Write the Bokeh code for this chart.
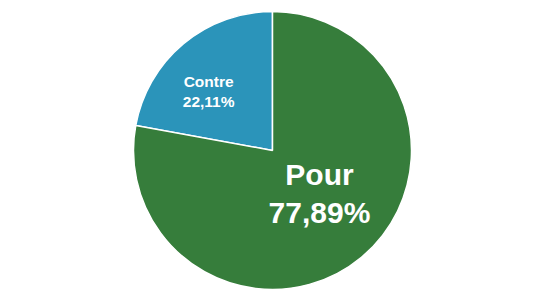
import math
from bokeh.plotting import figure
from bokeh.models import Range1d, ColumnDataSource
from bokeh.core.properties import value
from bokeh.embed import file_html
from bokeh.resources import INLINE

categories = ["Contre", "Pour"]
shares = [22.11, 77.89]
labels = ["Contre\n22,11%", "Pour\n77,89%"]
colors = ["#2b94ba", "#367d3b"]
font_sizes = ["15.5px", "30px"]
label_radius_frac = [0.625, 0.46]
label_angle_offset_deg = [7.5, 7.5]

W, H = 545, 300
cx, cy, R = 272, 150, 139

# Contre starts at 12 o'clock going anticlockwise; Pour fills the rest
starts, ends, lx, ly = [], [], [], []
a = math.pi / 2
for s, f, off in zip(shares, label_radius_frac, label_angle_offset_deg):
    span = s / 100 * 2 * math.pi
    starts.append(a)
    ends.append(a + span)
    mid = a + span / 2 + math.radians(off)
    lx.append(cx + f * R * math.cos(mid))
    ly.append(cy + f * R * math.sin(mid))
    a += span

src = ColumnDataSource(dict(start=starts, end=ends, color=colors, cat=categories,
                            lx=lx, ly=ly, label=labels, fs=font_sizes))

p = figure(width=W, height=H, x_range=Range1d(0, W), y_range=Range1d(0, H),
           output_backend="svg", toolbar_location=None, min_border=0)
p.axis.visible = False
p.grid.visible = False
p.outline_line_color = None
p.background_fill_color = "white"

p.wedge(x=cx, y=cy, radius=R, start_angle="start", end_angle="end",
        direction="anticlock", fill_color="color", line_color="white",
        line_width=1.5, source=src)

p.text(x="lx", y="ly", text="label", source=src, text_align="center",
       text_baseline="middle", text_color="white", text_font_style="bold",
       text_font=value("Liberation Sans"), text_font_size="fs",
       text_line_height=1.15)

open("out.html", "w").write(file_html(p, INLINE))
